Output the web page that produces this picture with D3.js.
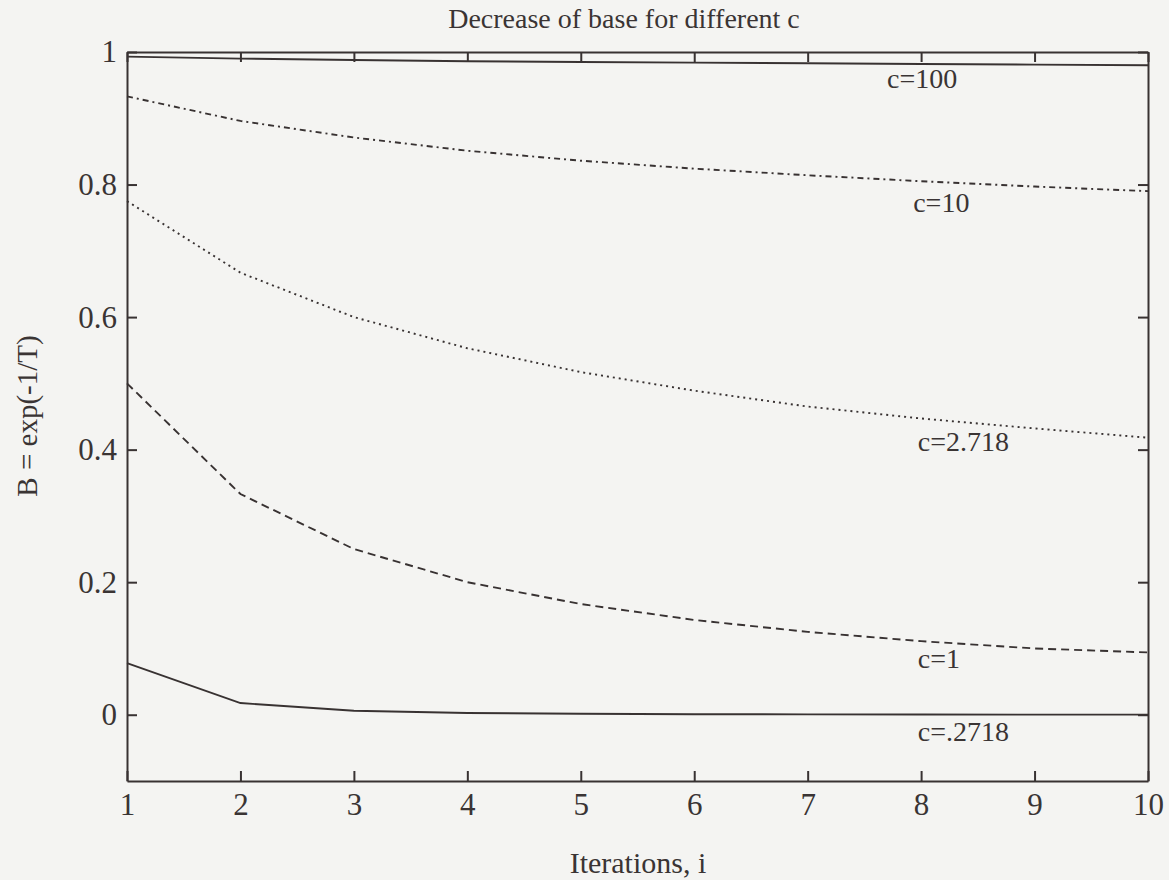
<!DOCTYPE html>
<html>
<head>
<meta charset="utf-8">
<script src="https://cdn.jsdelivr.net/npm/d3@7"></script>
<style>
  body { margin: 0; background: #f4f4f2; }
  svg { display: block; }
  text { font-family: "Liberation Serif", "Times New Roman", serif; fill: #3a3434; }
</style>
</head>
<body>
<svg></svg>
<script>
// Decrease of base for different c

const width = 1169;
const height = 880;

const iterations = [1, 2, 3, 4, 5, 6, 7, 8, 9, 10];
const seriesNames = ["c=.2718", "c=1", "c=2.718", "c=10", "c=100"];
const b0 = [0.078, 0.0176, 0.0061, 0.0027, 0.0014, 0.0008, 0.0005, 0.0003, 0.0002, 0.0002];
const b1 = [0.5, 0.333, 0.25, 0.2, 0.167, 0.143, 0.125, 0.111, 0.1, 0.094];
const b2 = [0.775, 0.667, 0.600, 0.553, 0.517, 0.489, 0.465, 0.447, 0.432, 0.418];
const b3 = [0.933, 0.896, 0.871, 0.851, 0.836, 0.824, 0.814, 0.805, 0.797, 0.790];
const b4 = [0.993, 0.990, 0.988, 0.986, 0.985, 0.984, 0.983, 0.982, 0.981, 0.980];
const xTicks = [1, 2, 3, 4, 5, 6, 7, 8, 9, 10];
const yTicks = [0, 0.2, 0.4, 0.6, 0.8, 1];
// where each curve name sits (data units)
const labelX = [7.97, 7.97, 7.97, 7.93, 7.70];
const labelY = [-0.04, 0.07, 0.398, 0.758, 0.945];

const series = [b0, b1, b2, b3, b4];
const dashes = [null, "8,5", "2,4", "6,4,2,4", null];

const ink = "#383232";
const margin = { top: 52, right: 21, bottom: 99, left: 127 };

const x = d3.scaleLinear()
  .domain([1, 10])
  .range([margin.left, width - margin.right]);

const y = d3.scaleLinear()
  .domain([-0.1, 1])
  .range([height - margin.bottom, margin.top]);

const svg = d3.select("svg")
  .attr("width", width)
  .attr("height", height);

svg.append("rect")
  .attr("width", width)
  .attr("height", height)
  .attr("fill", "#f4f4f2");

// axes, ticks pointing inward on all four sides
const fmt = d => d === 0 || d === 1 ? String(d) : d3.format(".1f")(d);

const axes = [
  svg.append("g").attr("transform", `translate(0,${y(-0.1)})`)
    .call(d3.axisBottom(x).tickValues(xTicks).tickSizeInner(-10).tickSizeOuter(0).tickPadding(12)),
  svg.append("g").attr("transform", `translate(0,${y(1)})`)
    .call(d3.axisTop(x).tickValues(xTicks).tickSizeInner(-10).tickSizeOuter(0).tickFormat("")),
  svg.append("g").attr("transform", `translate(${x(1)},0)`)
    .call(d3.axisLeft(y).tickValues(yTicks).tickSizeInner(-10).tickSizeOuter(0).tickPadding(10).tickFormat(fmt)),
  svg.append("g").attr("transform", `translate(${x(10)},0)`)
    .call(d3.axisRight(y).tickValues(yTicks).tickSizeInner(-10).tickSizeOuter(0).tickFormat(""))
];

axes.forEach(g => {
  g.select(".domain").attr("stroke", ink).attr("stroke-width", 2);
  g.selectAll(".tick line").attr("stroke", ink).attr("stroke-width", 2);
  g.selectAll(".tick text")
    .attr("font-size", 31)
    .attr("fill", ink);
});

const line = d3.line()
  .x((d, i) => x(iterations[i]))
  .y(d => y(d));

svg.append("g")
  .attr("fill", "none")
  .attr("stroke", ink)
  .attr("stroke-width", 1.9)
  .selectAll("path")
  .data(series)
  .join("path")
  .attr("stroke-dasharray", (d, i) => dashes[i])
  .attr("d", line);

svg.append("g")
  .selectAll("text")
  .data(seriesNames)
  .join("text")
  .attr("x", (d, i) => x(labelX[i]))
  .attr("y", (d, i) => y(labelY[i]))
  .attr("font-size", 28)
  .text(d => d);

svg.append("text")
  .attr("x", 624)
  .attr("y", 28)
  .attr("text-anchor", "middle")
  .attr("font-size", 28)
  .text("Decrease of base for different c");

svg.append("text")
  .attr("x", 638)
  .attr("y", 873)
  .attr("text-anchor", "middle")
  .attr("font-size", 30)
  .text("Iterations, i");

svg.append("text")
  .attr("transform", `translate(37,416) rotate(-90)`)
  .attr("text-anchor", "middle")
  .attr("font-size", 29)
  .text("B = exp(-1/T)");
</script>
</body>
</html>
